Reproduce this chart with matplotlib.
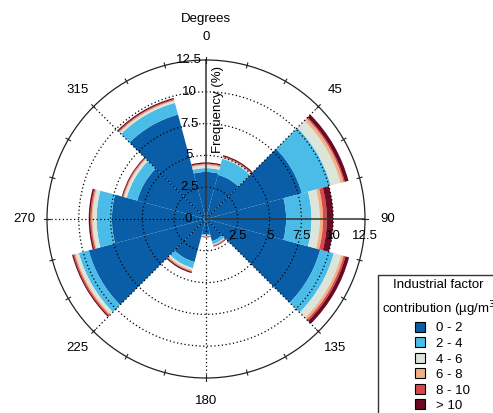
import numpy as np
import matplotlib
matplotlib.use('Agg')
import matplotlib.pyplot as plt
from matplotlib.lines import Line2D

plt.rcParams['font.family'] = ['Liberation Sans', 'DejaVu Sans']

# wind sectors (degrees, centre of 30 degree bins)
sectors = [0, 30, 60, 90, 120, 150, 180, 210, 240, 270, 300, 330]
bands = ['0 - 2', '2 - 4', '4 - 6', '6 - 8', '8 - 10', '> 10']
colors = ['#0A5EA8', '#4BBBE8', '#DCE5DA', '#F2B084', '#D6484C', '#6B0A22']

# frequency (%) of each concentration band per sector
f_0_2 = [3.70, 3.60, 7.80, 6.30, 9.30, 1.80, 1.20, 3.50, 9.55, 7.40, 5.60, 8.50]
f_2_4 = [0.30, 1.30, 2.35, 2.00, 1.10, 0.25, 0.10, 0.50, 0.80, 1.20, 0.85, 0.95]
f_4_6 = [0.20, 0.10, 0.80, 0.65, 0.60, 0.05, 0.05, 0.15, 0.25, 0.30, 0.20, 0.15]
f_6_8 = [0.10, 0.05, 0.25, 0.25, 0.20, 0.05, 0.03, 0.10, 0.10, 0.10, 0.07, 0.08]
f_8_10 = [0.05, 0.05, 0.10, 0.30, 0.15, 0.05, 0.03, 0.05, 0.10, 0.10, 0.06, 0.07]
f_gt10 = [0.10, 0.10, 0.30, 0.50, 0.30, 0.05, 0.04, 0.10, 0.10, 0.12, 0.07, 0.10]

freqs = [f_0_2, f_2_4, f_4_6, f_6_8, f_8_10, f_gt10]

rticks = [2.5, 5, 7.5, 10, 12.5]
angle_labels = [0, 45, 90, 135, 180, 225, 270, 315]

fig = plt.figure(figsize=(4.93, 4.13), dpi=100)
ax = fig.add_axes([47/493, 35/413, 318/493, 318/413], projection='polar')
ax.set_theta_zero_location('N')
ax.set_theta_direction(-1)
ax.set_ylim(0, 12.5)
ax.set_xticks([])
ax.set_yticks([])
ax.grid(False)
ax.spines['polar'].set_color('#222222')
ax.spines['polar'].set_linewidth(0.9)

theta = np.radians(sectors)
width = np.radians(30)
bottom = np.zeros(len(sectors))
for vals, col in zip(freqs, colors):
    vals = np.array(vals)
    ax.bar(theta, vals, width=width, bottom=bottom, color=col,
           edgecolor='none', linewidth=0, align='center', zorder=2)
    bottom = bottom + vals

# dotted grid
circ = np.linspace(0, 2*np.pi, 400)
for r in rticks[:-1]:
    ax.plot(circ, np.full_like(circ, r), ls=(0, (1, 2)), color='black',
            lw=0.9, zorder=3)
for a in angle_labels:
    if a in (0, 90):
        continue
    ax.plot([np.radians(a)] * 2, [0, 12.5], ls=(0, (1, 2)), color='black',
            lw=0.9, zorder=3)
# solid axes on 0 and 90
ax.plot([0, 0], [0, 12.5], color='#333333', lw=1.1, zorder=4)
ax.plot([np.pi/2]*2, [0, 12.5], color='#333333', lw=1.1, zorder=4)

# ticks on the outer circle
for a in range(0, 360, 15):
    ax.plot([np.radians(a)]*2, [12.3, 12.7], color='#222222', lw=0.8,
            clip_on=False, zorder=4)

# radial labels
ax.annotate('0', xy=(0, 0), xytext=(-13, 0), textcoords='offset points',
            ha='center', va='center', fontsize=9.5, zorder=5)
for r in rticks:
    lab = ('%g' % r)
    ax.annotate(lab, xy=(0, r), xytext=(-12, 0), textcoords='offset points',
                ha='center', va='center', fontsize=9.5, zorder=5)
    ax.annotate(lab, xy=(np.pi/2, r), xytext=(0, -12.5),
                textcoords='offset points', ha='center', va='center',
                fontsize=9.5, zorder=5)
ax.annotate('Frequency (%)', xy=(0, 8.6), xytext=(8.5, 0),
            textcoords='offset points', ha='center', va='center',
            rotation=90, fontsize=9.5, zorder=5)

# angle labels
for a in angle_labels:
    ax.text(np.radians(a), 14.3, str(a), ha='center', va='center',
            fontsize=9.5, clip_on=False)
ax.text(0, 15.75, 'Degrees', ha='center', va='center', fontsize=9.5,
        clip_on=False)

handles = [Line2D([], [], marker='s', ls='none', markersize=6.5,
                  markerfacecolor=c, markeredgecolor='black',
                  markeredgewidth=0.8) for c in colors]
leg = fig.legend(handles, bands, loc='upper left',
                 bbox_to_anchor=(378/493, 1 - 275/413),
                 title='Industrial factor\ncontribution (\u00b5g/m$^3$',
                 fontsize=9.5, title_fontsize=9.5, frameon=True,
                 fancybox=False, edgecolor='black', handlelength=1.9,
                 handletextpad=0.3, labelspacing=0.25, borderpad=0.3,
                 borderaxespad=0)
leg.get_frame().set_linewidth(1.0)
leg.get_title().set_linespacing(1.6)
leg.get_title().set_multialignment('center')

fig.savefig('out.png', dpi=100)
